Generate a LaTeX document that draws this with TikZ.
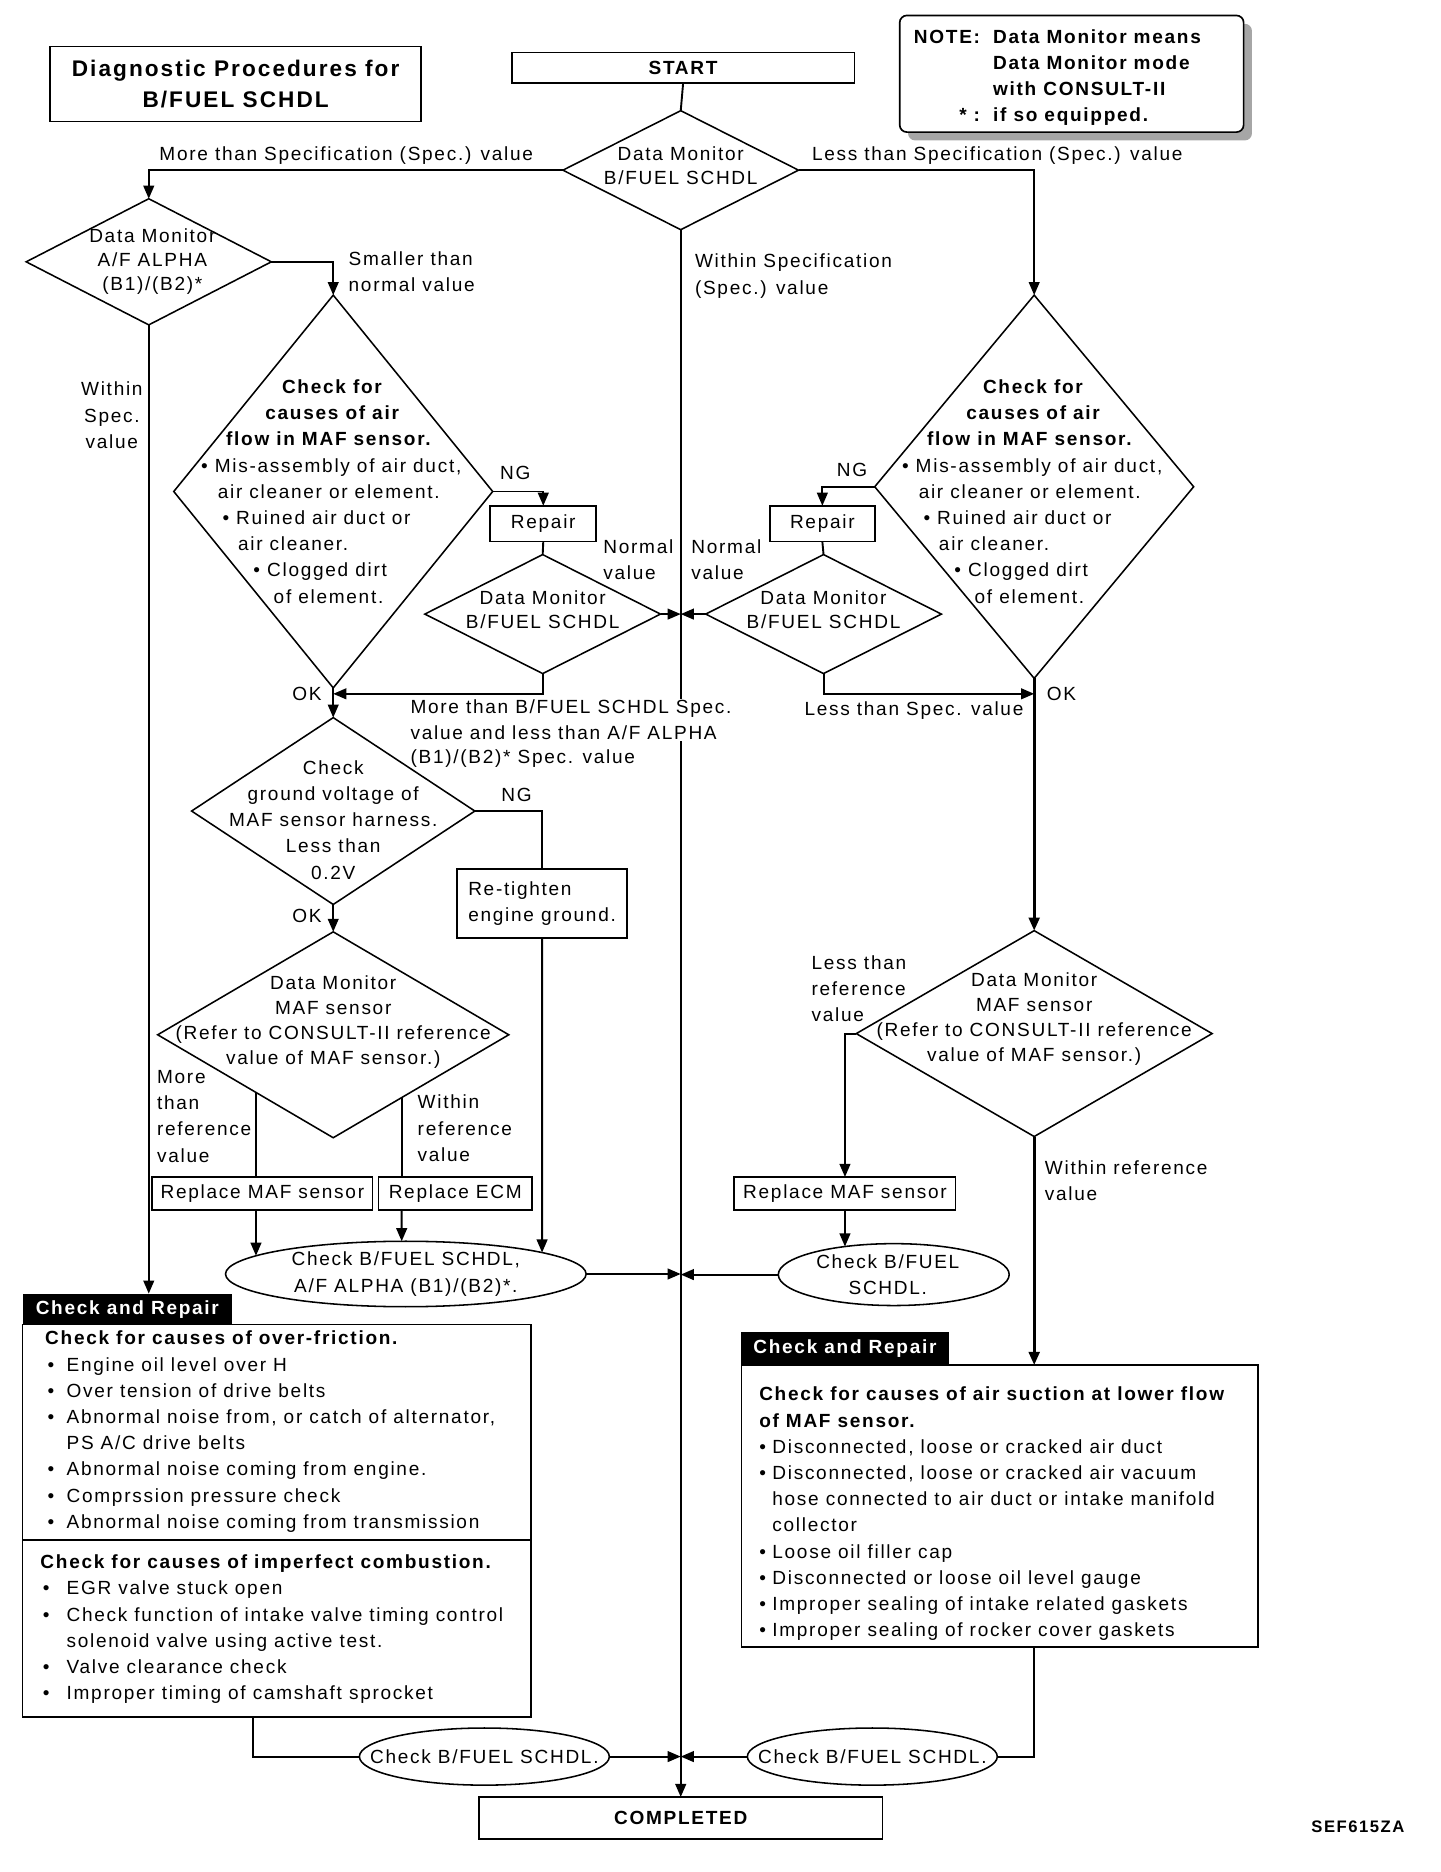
\documentclass[tikz,border=0pt]{standalone}
\usepackage{fontspec}
\setmainfont{Liberation Sans}[LetterSpace=9]
\usetikzlibrary{shapes.geometric,arrows.meta,calc,intersections,shadows}
\newcommand{\bul}[1]{\makebox[#1][l]{•}}
\newcommand{\airflow}{%
\hspace*{68pt}\textbf{Check for}\\
\hspace*{54pt}\textbf{causes of air}\\
\hspace*{21pt}\textbf{flow in MAF sensor.}\\
• Mis-assembly of air duct,\\
\hspace*{14pt}air cleaner or element.\\
\hspace*{18pt}• Ruined air duct or\\
\hspace*{31pt}air cleaner.\\
\hspace*{44pt}• Clogged dirt\\
\hspace*{61pt}of element.}
\begin{document}
\begin{tikzpicture}[x=1pt,y=-1pt,outer sep=0pt]
\tikzstyle{every node} = [font=\fontsize{16}{22}\selectfont, inner sep=0pt]
\tikzstyle{box} = [draw, rectangle, line width=1.4pt]
\tikzstyle{dia} = [draw, diamond, line width=1.3pt]
\tikzstyle{ell} = [draw, ellipse, line width=1.3pt]
\tikzstyle{txt} = [align=center]
\tikzstyle{txt20} = [align=center, font=\fontsize{16}{20}\selectfont]
\tikzstyle{txt21} = [align=center, font=\fontsize{16}{21}\selectfont]
\tikzstyle{bold} = [font=\fontsize{16}{22}\selectfont\bfseries]
\tikzstyle{tab} = [fill=black, text=white, font=\fontsize{16}{22}\selectfont\bfseries]
\tikzstyle{arr} = [line width=1.6pt, -{Triangle[length=11pt,width=9pt]}]
\tikzstyle{con} = [line width=1.6pt]
%
\useasboundingbox (0,0) rectangle (1210,1573);
%
\node[box, minimum width=312pt, minimum height=63pt, align=center, font=\fontsize{19}{26}\selectfont\bfseries] (title) at (198,70.5) {Diagnostic Procedures for\\B/FUEL SCHDL};
\node[box, bold, minimum width=288pt, minimum height=26pt] (start) at (574,57) {START};
\node[box, fill=white, rounded corners=6pt, minimum width=289pt, minimum height=98pt, drop shadow={shadow xshift=7pt, shadow yshift=-7pt, fill=black!35, opacity=1}] (note) at (900.5,62) {};
\node[bold, anchor=west] (notetext) at ([xshift=12pt,yshift=-3pt]note.west) {\begin{tabular}{@{}r@{\hspace{11pt}}l@{}}NOTE: & Data Monitor means\\ & Data Monitor mode\\ & with CONSULT-II\\ {*}\ : & if so equipped.\end{tabular}};
%
\node[dia, minimum width=198pt, minimum height=100pt, label={[txt20, yshift=4pt]center:{Data Monitor\\B/FUEL SCHDL}}] (dmain) at (572,143) {};
\node[dia, minimum width=206pt, minimum height=106pt, label={[txt20, xshift=3pt]center:{Data Monitor\\A/F ALPHA\\(B1)/(B2)*}}] (afd) at (125,220) {};
\node[dia, minimum width=268pt, minimum height=330pt] (chkL) at (280,413) {};
\node[dia, minimum width=268pt, minimum height=322pt] (chkR) at (869,409) {};
\node[anchor=west, align=left] (chkLtext) at ([xshift=-111pt]chkL.center) {\airflow};
\node[anchor=west, align=left] (chkRtext) at ([xshift=-111pt,yshift=-4pt]chkR.center) {\airflow};
\node[box, minimum width=89pt, minimum height=30pt] (repL) at (456.5,440) {Repair};
\node[box, minimum width=88pt, minimum height=30pt] (repR) at (691,440) {Repair};
\node[dia, minimum width=198pt, minimum height=100pt, label={[txt20, yshift=4pt]center:{Data Monitor\\B/FUEL SCHDL}}] (lldm) at (456,516) {};
\node[dia, minimum width=198pt, minimum height=100pt, label={[txt20, yshift=4pt]center:{Data Monitor\\B/FUEL SCHDL}}] (lrdm) at (692,516) {};
\node[dia, minimum width=238pt, minimum height=157pt, label={[txt, yshift=-7.5pt]center:{Check\\ground voltage of\\MAF sensor harness.\\Less than\\0.2V}}] (gnd) at (280,681.5) {};
\node[box, minimum width=143pt, minimum height=58pt, align=left] (retight) at (455.5,759) {Re-tighten\\engine ground.};
\node[dia, minimum width=295pt, minimum height=173pt, label={[txt21, yshift=11pt]center:{Data Monitor\\MAF sensor\\(Refer to CONSULT-II reference\\value of MAF sensor.)}}] (lmaf) at (280,869.5) {};
\node[dia, minimum width=299pt, minimum height=173pt, label={[txt21, yshift=12pt]center:{Data Monitor\\MAF sensor\\(Refer to CONSULT-II reference\\value of MAF sensor.)}}] (rmaf) at (869,868.5) {};
\node[box, minimum width=185pt, minimum height=28pt] (repMafL) at (220.5,1003) {Replace MAF sensor};
\node[box, minimum width=129pt, minimum height=28pt] (repEcm) at (382.5,1003) {Replace ECM};
\node[box, minimum width=186pt, minimum height=28pt] (repMafR) at (710,1003) {Replace MAF sensor};
\node[ell, minimum width=303pt, minimum height=55pt, label={[txt]center:{Check B/FUEL SCHDL,\\A/F ALPHA (B1)/(B2)*.}}] (ellL) at (341,1070.5) {};
\node[ell, minimum width=194pt, minimum height=52pt, label={[txt, xshift=-5pt]center:{Check B/FUEL\\SCHDL.}}] (ellR) at (751,1071) {};
%
\node[box, minimum width=427pt, minimum height=330pt] (crL) at (232.5,1278) {};
\node[tab, minimum width=176pt, minimum height=26pt] (crLtab) at (107,1100) {Check and Repair};
\node[anchor=west, align=left] (crLtext1) at (38,1203) {\textbf{Check for causes of over-friction.}\\
\hspace*{2pt}\bul{16pt}Engine oil level over H\\
\hspace*{2pt}\bul{16pt}Over tension of drive belts\\
\hspace*{2pt}\bul{16pt}Abnormal noise from, or catch of alternator,\\
\hspace*{18pt}PS A/C drive belts\\
\hspace*{2pt}\bul{16pt}Abnormal noise coming from engine.\\
\hspace*{2pt}\bul{16pt}Comprssion pressure check\\
\hspace*{2pt}\bul{16pt}Abnormal noise coming from transmission};
\node[anchor=west, align=left] (crLtext2) at (34,1369) {\textbf{Check for causes of imperfect combustion.}\\
\hspace*{2pt}\bul{20pt}EGR valve stuck open\\
\hspace*{2pt}\bul{20pt}Check function of intake valve timing control\\
\hspace*{22pt}solenoid valve using active test.\\
\hspace*{2pt}\bul{20pt}Valve clearance check\\
\hspace*{2pt}\bul{20pt}Improper timing of camshaft sprocket};
\draw[line width=1.4pt] ($(crL.north west)!0.548!(crL.south west)$) -- ($(crL.north east)!0.548!(crL.south east)$);
\node[box, minimum width=434pt, minimum height=237pt] (crR) at (840,1265.5) {};
\node[tab, minimum width=174pt, minimum height=28pt] (crRtab) at (710,1133) {Check and Repair};
\node[anchor=west, align=left] (crRtext) at (638,1272) {\textbf{Check for causes of air suction at lower flow}\\
\textbf{of MAF sensor.}\\
\bul{11pt}Disconnected, loose or cracked air duct\\
\bul{11pt}Disconnected, loose or cracked air vacuum\\
\hspace*{11pt}hose connected to air duct or intake manifold\\
\hspace*{11pt}collector\\
\bul{11pt}Loose oil filler cap\\
\bul{11pt}Disconnected or loose oil level gauge\\
\bul{11pt}Improper sealing of intake related gaskets\\
\bul{11pt}Improper sealing of rocker cover gaskets};
%
\node[ell, minimum width=210pt, minimum height=48pt, label={[txt]center:{Check B/FUEL SCHDL.}}] (ellBL) at (407,1476) {};
\node[ell, minimum width=210pt, minimum height=48pt, label={[txt]center:{Check B/FUEL SCHDL.}}] (ellBR) at (733,1476) {};
\node[box, bold, minimum width=339pt, minimum height=35pt] (done) at (572,1527.5) {COMPLETED};
\node[font=\fontsize{14}{16}\selectfont\bfseries] (code) at (1141,1535) {SEF615ZA};
%
\draw[con] (start.south) -- (dmain.north);
\draw[arr] (dmain.south) -- (done.north);
\draw[arr] (dmain.west) -| (afd.north);
\draw[arr] (dmain.east) -| (chkR.north);
\draw[arr] (afd.east) -| (chkL.north);
\draw[arr] (afd.south) -- (afd.south |- crLtab.north);
\draw[arr] (chkL.east) -| (repL.north);
\draw[arr] (chkR.west) -| (repR.north);
\draw[con] (repL.south) -- (lldm.north);
\draw[con] (repR.south) -- (lrdm.north);
\draw[arr] (lldm.east) -- (lldm.east -| dmain.south);
\draw[arr] (lrdm.west) -- (lrdm.west -| dmain.south);
\coordinate (okL) at (280,583);
\coordinate (okR) at (869,583);
\draw[arr] (lldm.south) |- (okL);
\draw[arr] (lrdm.south) |- (okR);
\draw[arr] (chkL.south) -- (gnd.north);
\draw[arr, line width=2.4pt] (chkR.south) -- (rmaf.north);
\draw[arr] (gnd.south) -- (lmaf.north);
\draw[con] (gnd.east) -| (retight.north);
\draw[arr] (rmaf.west) -| (repMafR.north);
\draw[arr, line width=2.4pt] (rmaf.south) -- (rmaf.south |- crR.north);
\coordinate (pL) at ($(lmaf.west)!0.56!(lmaf.south)$);
\coordinate (pR) at ($(lmaf.east)!0.61!(lmaf.south)$);
\draw[con] (pL) -- (pL |- repMafL.north);
\draw[con] (pR) -- (pR |- repEcm.north);
\path[name path=ellLp] (ellL.center) ellipse [x radius=151.5pt, y radius=27.5pt];
\path[name path=ellRp] (ellR.center) ellipse [x radius=97pt, y radius=26pt];
\path[name path=vA] (pL |- repMafL.south) -- ++(0,60);
\path[name path=vB] (pR |- repEcm.south) -- ++(0,45);
\path[name path=vC] (retight.south) -- ++(0,280);
\path[name path=vD] (repMafR.south) -- ++(0,50);
\draw[arr, name intersections={of=vA and ellLp, by=iA}] (pL |- repMafL.south) -- (iA);
\draw[arr, name intersections={of=vB and ellLp, by=iB}] (pR |- repEcm.south) -- (iB);
\draw[arr, name intersections={of=vC and ellLp, by=iC}] (retight.south) -- (iC);
\draw[arr, name intersections={of=vD and ellRp, by=iD}] (repMafR.south) -- (iD);
\draw[arr] (ellL.east) -- (ellL.east -| dmain.south);
\draw[arr] (ellR.west) -- (ellR.west -| dmain.south);
\coordinate (outL) at ($(crL.south west)!0.454!(crL.south east)$);
\coordinate (outR) at (rmaf.south |- crR.south);
\draw[con] (outL) |- (ellBL.west);
\draw[con] (outR) |- (ellBR.east);
\draw[arr] (ellBL.east) -- (ellBL.east -| dmain.south);
\draw[arr] (ellBR.west) -- (ellBR.west -| dmain.south);
%
\node (lMore) at (291,131) {More than Specification (Spec.) value};
\node (lLess) at (838,131) {Less than Specification (Spec.) value};
\node[anchor=west, align=left] (lWithin) at (584,232) {Within Specification\\(Spec.) value};
\node[anchor=west, align=left] (lSmaller) at (293,228) {Smaller than\\normal value};
\node[align=center] (lSpec) at (94,349) {Within\\Spec.\\value};
\node (lNG1) at (433,397) {NG};
\node (lNG2) at (716,395) {NG};
\node[anchor=west, align=left] (lNorm1) at (507,470) {Normal\\value};
\node[anchor=west, align=left] (lNorm2) at (581,470) {Normal\\value};
\node (lOK1) at (258,583) {OK};
\node (lOK2) at (892,583) {OK};
\node (lOK3) at (258,770) {OK};
\node[anchor=west, align=left, fill=white, inner sep=1pt] (lMoreB) at (344,605) {More than B/FUEL SCHDL Spec.\\value and less than A/F ALPHA};
\node[anchor=west] (lMoreB2) at (345,637) {(B1)/(B2)* Spec. value};
\node (lLessS) at (768,597) {Less than Spec. value};
\node (lNG3) at (434,668) {NG};
\node[anchor=west, align=left] (lLessR) at (682,831) {Less than\\reference\\value};
\node[anchor=west, align=left] (lMoreR) at (132,938) {More\\than\\reference\\value};
\node[anchor=west, align=left] (lWithinR) at (351,948) {Within\\reference\\value};
\node[anchor=west, align=left] (lWithinR2) at (878,992) {Within reference\\value};
\end{tikzpicture}
\end{document}
